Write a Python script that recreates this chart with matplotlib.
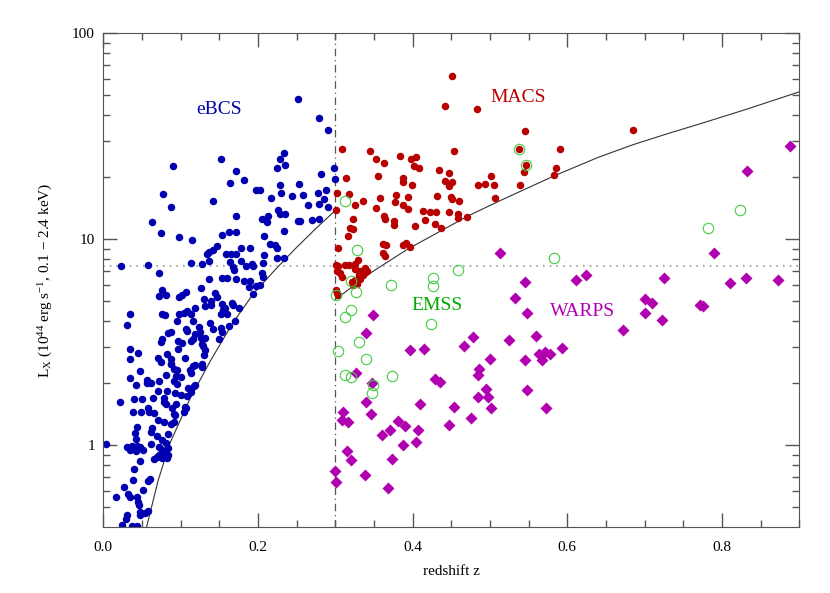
import matplotlib
matplotlib.use("Agg")
import matplotlib.pyplot as plt
from matplotlib.ticker import MultipleLocator, LogLocator, FixedFormatter, FixedLocator, NullFormatter

plt.rcParams['font.family'] = 'Liberation Serif'
plt.rcParams['mathtext.fontset'] = 'custom'
plt.rcParams['mathtext.rm'] = 'Liberation Serif'
plt.rcParams['mathtext.it'] = 'Liberation Serif:italic'

# eBCS clusters (z, L_X)
ebcs_z = [0.252, 0.090, 0.152, 0.171, 0.164, 0.182, 0.077, 0.142, 0.224, 0.229, 0.233, 0.235,
          0.197, 0.203, 0.228, 0.230, 0.217, 0.244, 0.253, 0.279, 0.290, 0.298, 0.282, 0.300,
          0.258, 0.278, 0.288, 0.285,
          0.088, 0.063, 0.074, 0.098, 0.115, 0.171, 0.153, 0.163, 0.171, 0.205, 0.213, 0.212,
          0.226, 0.235, 0.229, 0.252, 0.234, 0.208, 0.216, 0.222, 0.225, 0.178, 0.190, 0.147,
          0.142, 0.136, 0.134, 0.158, 0.165, 0.171, 0.208, 0.225, 0.234, 0.023, 0.058, 0.113,
          0.127, 0.137, 0.164, 0.168, 0.169, 0.178, 0.184, 0.192, 0.194, 0.206, 0.072, 0.205,
          0.206, 0.153, 0.160, 0.171, 0.136, 0.182, 0.190, 0.188, 0.202, 0.198, 0.194, 0.126,
          0.076, 0.081, 0.072, 0.107, 0.102, 0.098, 0.144, 0.147, 0.139, 0.139, 0.132, 0.130,
          0.153, 0.157, 0.155, 0.152, 0.166, 0.168, 0.175, 0.160, 0.118, 0.114, 0.108, 0.104,
          0.076, 0.080, 0.098, 0.095, 0.116, 0.138, 0.170, 0.035, 0.030, 0.163, 0.142, 0.152,
          0.153, 0.107, 0.108, 0.124, 0.125, 0.119, 0.116, 0.114, 0.126, 0.132, 0.127, 0.129,
          0.087, 0.083, 0.076, 0.074, 0.097, 0.102, 0.149, 0.097, 0.035, 0.045, 0.082, 0.035,
          0.071, 0.074, 0.088, 0.088, 0.105, 0.118, 0.130, 0.132, 0.128,
          0.048, 0.088, 0.091, 0.095, 0.112, 0.116, 0.127, 0.114, 0.081, 0.094, 0.101, 0.091,
          0.095, 0.035, 0.042, 0.057, 0.061, 0.056, 0.072, 0.109, 0.117, 0.114, 0.119, 0.071,
          0.082, 0.093, 0.101, 0.108, 0.078, 0.064, 0.021, 0.040, 0.050, 0.079, 0.081, 0.094,
          0.089, 0.105, 0.104, 0.107, 0.091, 0.093, 0.038, 0.049, 0.058, 0.059, 0.066, 0.071,
          0.078, 0.088, 0.091, 0.043, 0.041, 0.063, 0.062, 0.084, 0.069, 0.076, 0.081, 0.042,
          0.003, 0.031, 0.037, 0.043, 0.035, 0.042, 0.047, 0.051, 0.061, 0.072, 0.076, 0.072,
          0.080, 0.083, 0.084, 0.082, 0.076, 0.069, 0.066, 0.047, 0.040, 0.039, 0.060, 0.058,
          0.027, 0.032, 0.035, 0.016, 0.051, 0.044, 0.045, 0.046, 0.047, 0.048, 0.054, 0.058,
          0.031, 0.029, 0.024, 0.037, 0.043,
          0.265, 0.279, 0.290, 0.254, 0.270, 0.279]
ebcs_lx = [47.9, 22.6, 24.5, 21.5, 18.7, 19.3, 16.5, 15.4, 22.2, 24.6, 26.3, 22.9,
           17.4, 17.3, 18.3, 16.7, 15.9, 16.2, 18.5, 38.6, 34.0, 22.1, 20.7, 19.6,
           16.4, 16.7, 17.3, 15.6,
           14.3, 12.1, 10.7, 10.3, 9.97, 13.0, 10.5, 10.8, 10.9, 12.5, 12.9, 12.1,
           13.8, 13.2, 13.3, 12.2, 11.0, 10.4, 9.53, 9.42, 9.02, 9.06, 9.06, 9.24,
           8.91, 8.71, 8.49, 8.49, 8.49, 8.49, 8.34, 8.09, 8.09, 7.42, 7.54, 7.64,
           7.57, 7.82, 7.74, 7.36, 7.13, 7.81, 7.39, 7.55, 7.39, 7.69, 6.87, 6.87,
           6.59, 6.47, 6.47, 6.43, 6.43, 6.24, 6.24, 5.89, 6.03, 5.93, 5.41, 5.83,
           5.69, 5.38, 5.30, 5.55, 5.38, 5.24, 5.51, 5.24, 5.02, 4.77, 4.72, 5.11,
           4.86, 4.62, 4.51, 4.34, 4.92, 4.77, 4.62, 4.34, 4.64, 4.34, 4.47, 4.39,
           4.34, 4.27, 4.34, 3.99, 3.99, 3.94, 4.00, 4.35, 3.82, 3.78, 3.66, 3.72,
           3.54, 3.68, 3.57, 3.75, 3.54, 3.46, 3.29, 3.20, 3.33, 3.31, 3.11, 3.02,
           3.55, 3.51, 3.29, 3.16, 3.22, 3.13, 3.27, 2.94, 2.94, 2.81, 2.78, 2.61,
           2.64, 2.53, 2.63, 2.49, 2.65, 2.46, 2.73, 2.89, 2.47,
           2.29, 2.47, 2.35, 2.31, 2.33, 2.42, 2.39, 2.23, 2.18, 2.16, 2.14, 2.05,
           1.99, 2.11, 1.97, 2.07, 2.01, 2.01, 2.04, 1.90, 1.93, 1.81, 1.97, 1.83,
           1.83, 1.79, 1.76, 1.73, 1.70, 1.70, 1.63, 1.67, 1.67, 1.62, 1.58, 1.59,
           1.52, 1.53, 1.45, 1.51, 1.42, 1.40, 1.45, 1.45, 1.51, 1.45, 1.44, 1.33,
           1.30, 1.27, 1.29, 1.23, 1.15, 1.21, 1.16, 1.13, 1.11, 1.06, 1.02, 1.07,
           1.01, 0.975, 0.99, 0.99, 0.946, 0.936, 0.975, 0.946, 1.01, 0.975, 0.946, 0.90,
           0.91, 0.965, 0.895, 0.87, 0.87, 0.88, 0.86, 0.84, 0.77, 0.68, 0.685, 0.67,
           0.625, 0.58, 0.56, 0.56, 0.605, 0.56, 0.53, 0.51, 0.475, 0.46, 0.47, 0.48,
           0.46, 0.44, 0.41, 0.405, 0.405,
           14.7, 14.8, 14.3, 12.3, 12.4, 12.5]

# MACS clusters
macs_z = [0.451, 0.442, 0.483, 0.308, 0.345, 0.352, 0.363, 0.384, 0.398, 0.404, 0.402, 0.408,
          0.453, 0.314, 0.355, 0.387, 0.387, 0.399, 0.434, 0.447, 0.442, 0.451, 0.447, 0.501,
          0.485, 0.494, 0.505, 0.302, 0.318, 0.336, 0.358, 0.378, 0.394, 0.431, 0.450, 0.460,
          0.506, 0.545, 0.685, 0.538, 0.591, 0.547, 0.544, 0.585, 0.583, 0.539,
          0.377, 0.387, 0.394, 0.353, 0.363, 0.364, 0.376, 0.376, 0.325, 0.323, 0.319, 0.323,
          0.317, 0.301, 0.413, 0.422, 0.430, 0.416, 0.429, 0.436, 0.447, 0.458, 0.459, 0.403,
          0.470, 0.451, 0.304, 0.361, 0.365, 0.388, 0.392, 0.396, 0.362, 0.364, 0.329, 0.325,
          0.301, 0.304, 0.312, 0.318, 0.302, 0.306, 0.308, 0.325, 0.330, 0.334, 0.338, 0.341,
          0.336, 0.330, 0.332, 0.325, 0.321, 0.323, 0.328, 0.301, 0.302, 0.304]
macs_lx = [62.0, 44.2, 42.9, 27.4, 26.9, 24.5, 23.4, 25.4, 24.4, 25.0, 22.8, 22.1,
           26.9, 19.8, 20.2, 19.9, 19.0, 18.4, 21.6, 21.0, 19.1, 18.9, 18.1, 20.2,
           18.3, 18.5, 18.4, 16.7, 16.6, 15.3, 15.8, 16.4, 16.0, 16.3, 16.0, 15.4,
           15.8, 33.6, 34.0, 27.4, 27.3, 22.9, 21.1, 22.2, 20.5, 18.3,
           15.1, 14.6, 14.1, 14.2, 13.0, 12.5, 12.3, 11.7, 14.6, 12.5, 11.4, 11.2,
           10.4, 13.8, 13.7, 13.5, 13.5, 12.4, 11.8, 11.3, 13.5, 13.2, 12.7, 11.6,
           12.8, 15.7, 9.1, 9.49, 9.42, 9.42, 9.6, 9.2, 8.6, 8.27, 7.89, 7.6,
           7.54, 7.39, 7.5, 7.46, 7.05, 6.87, 6.57, 7.17, 7.05, 7.05, 7.23, 6.98,
           6.67, 6.67, 6.43, 6.31, 6.17, 5.97, 6.08, 5.69, 5.51, 5.34]

# EMSS clusters
emss_z = [0.313, 0.328, 0.320, 0.301, 0.327, 0.372, 0.426, 0.426, 0.459, 0.320, 0.312, 0.424,
          0.331, 0.303, 0.340, 0.312, 0.320, 0.373, 0.349, 0.347, 0.583, 0.823, 0.782, 0.538,
          0.547]
emss_lx = [15.4, 8.9, 6.29, 5.38, 5.53, 6.0, 6.52, 5.93, 7.07, 4.53, 4.18, 3.89,
           3.17, 2.86, 2.62, 2.20, 2.14, 2.16, 1.95, 1.80, 8.1, 13.9, 11.3, 27.4,
           22.9]

# WARPS clusters
warps_z = [0.888, 0.832, 0.349, 0.340, 0.397, 0.414, 0.466, 0.478, 0.500, 0.513, 0.545, 0.532,
           0.548, 0.611, 0.624, 0.725, 0.700, 0.709, 0.700, 0.722, 0.672, 0.772, 0.524, 0.559,
           0.593, 0.563, 0.571, 0.578, 0.567, 0.545, 0.790, 0.810, 0.831, 0.872, 0.775, 0.327,
           0.347, 0.340, 0.310, 0.308, 0.317, 0.346, 0.410, 0.429, 0.435, 0.453, 0.486, 0.485,
           0.495, 0.484, 0.497, 0.501, 0.475, 0.447, 0.381, 0.390, 0.371, 0.360, 0.407, 0.404,
           0.387, 0.315, 0.320, 0.373, 0.300, 0.301, 0.338, 0.368, 0.548, 0.573]
warps_lx = [28.5, 21.5, 4.27, 3.52, 2.89, 2.94, 3.02, 3.35, 2.61, 8.6, 6.2, 5.2,
            4.39, 6.31, 6.68, 6.49, 5.13, 4.88, 4.39, 4.04, 3.64, 4.77, 3.23, 3.39,
            2.97, 2.78, 2.84, 2.78, 2.58, 2.58, 8.6, 6.15, 6.52, 6.34, 4.76, 2.25,
            2.0, 1.62, 1.45, 1.33, 1.30, 1.41, 1.59, 2.10, 2.02, 1.53, 2.35, 2.2,
            1.87, 1.71, 1.71, 1.51, 1.36, 1.26, 1.31, 1.24, 1.18, 1.12, 1.18, 1.04,
            1.0, 0.94, 0.846, 0.855, 0.75, 0.66, 0.72, 0.62, 1.85, 1.51]

# flux limit curves
ebcs_lim_z = [0.056, 0.071, 0.086, 0.112, 0.138, 0.166, 0.194, 0.222, 0.248, 0.275, 0.300]
ebcs_lim_lx = [0.402, 0.677, 1.02, 1.68, 2.55, 3.85, 5.44, 7.1, 8.98, 11.3, 13.8]
macs_lim_z = [0.300, 0.347, 0.394, 0.472, 0.513, 0.584, 0.640, 0.685, 0.730, 0.772, 0.830, 0.900]
macs_lim_lx = [5.10, 6.92, 8.98, 13.0, 15.4, 20.4, 25.0, 28.8, 32.6, 36.4, 42.6, 52.0]

fig = plt.figure(figsize=(8.3, 5.93), dpi=100)
ax = fig.add_axes([0.1245, 0.1118, 0.8386, 0.832])

ax.plot(ebcs_lim_z, ebcs_lim_lx, color='#333333', lw=0.8)
ax.plot(macs_lim_z, macs_lim_lx, color='#333333', lw=0.8)
ax.axvline(0.3, color='#555555', lw=0.9, ls=(0, (6, 3, 1, 3)))
ax.axhline(7.4, color='#999999', lw=1.2, ls=(0, (1, 3)))

ax.plot(ebcs_z, ebcs_lx, 'o', color='#0000B0', ms=5.4, mec='none')
ax.plot(macs_z, macs_lx, 'o', color='#B80000', ms=5.4, mec='none')
ax.plot(warps_z, warps_lx, 'D', color='#B000B0', ms=6.4, mec='none')
ax.plot(emss_z, emss_lx, 'o', mfc='none', mec='#44CC44', ms=7.5, mew=0.8)

ax.text(0.149, 42.9, 'eBCS', color='#0000B0', fontsize=14, ha='center', va='center')
ax.text(0.536, 48.8, 'MACS', color='#B80000', fontsize=14, ha='center', va='center')
ax.text(0.431, 4.77, 'EMSS', color='#00AA00', fontsize=14, ha='center', va='center')
ax.text(0.619, 4.48, 'WARPS', color='#B000B0', fontsize=14, ha='center', va='center')

ax.set_yscale('log')
ax.set_xlim(0, 0.9)
ax.set_ylim(0.402, 100)
ax.xaxis.set_major_locator(MultipleLocator(0.2))
ax.xaxis.set_minor_locator(MultipleLocator(0.05))
ax.yaxis.set_major_locator(FixedLocator([1, 10, 100]))
ax.yaxis.set_major_formatter(FixedFormatter(['1', '10', '100']))
ax.yaxis.set_minor_locator(LogLocator(base=10, subs=range(2, 10)))
ax.yaxis.set_minor_formatter(NullFormatter())
ax.tick_params(which='both', direction='in', top=True, right=True, color='#555555', labelsize=11)
ax.tick_params(which='major', length=10, width=1)
ax.tick_params(which='minor', length=5, width=1)
ax.tick_params(axis='x', which='major', pad=10)
ax.tick_params(axis='y', which='major', pad=6)
for s in ax.spines.values():
    s.set_color('#555555')

ax.set_xlabel('redshift z', fontsize=11, labelpad=8)
ax.set_ylabel(r'L$_{\rm X}$ (10$^{44}$ erg s$^{-1}$, 0.1 $-$ 2.4 keV)', fontsize=11, labelpad=12)

fig.savefig('out.png', dpi=100)
